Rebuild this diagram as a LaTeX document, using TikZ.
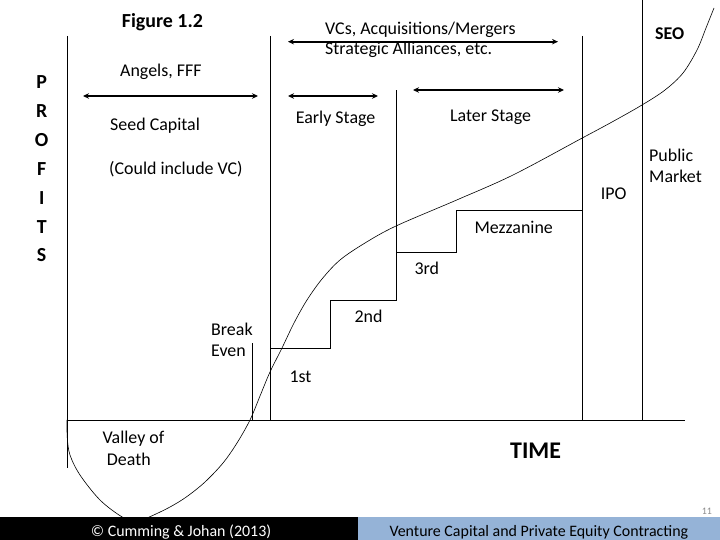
\documentclass[tikz,border=0pt]{standalone}
\usepackage{fontspec}
\setmainfont{Carlito}
\usetikzlibrary{arrows.meta}
\definecolor{footblue}{RGB}{149,179,215}
\definecolor{numgray}{RGB}{140,140,140}
\begin{document}
\begin{tikzpicture}[x=1bp,y=-1bp,
  ax/.style={line width=0.9bp,black},
  arr/.style={line width=1.8bp,{Stealth[length=6bp,width=5.5bp]}-{Stealth[length=6bp,width=5.5bp]}},
  lbl/.style={inner sep=0pt,anchor=base west,font=\fontsize{18}{20}\selectfont},
  blbl/.style={inner sep=0pt,anchor=base west,font=\fontsize{18}{20}\selectfont\bfseries},
  plet/.style={inner sep=0pt,anchor=base,font=\fontsize{20}{22}\selectfont\bfseries}]
\useasboundingbox (0,0) rectangle (720,540);
% axes and stage lines
\coordinate (yTop) at (67,36);
\coordinate (yBot) at (67,468);
\coordinate (xL) at (67,420);
\coordinate (xR) at (685,420);
\draw[ax] (yTop) -- (yBot);
\draw[ax] (xL) -- (xR);
\coordinate (v2t) at (270,36); \coordinate (v2b) at (270,420);
\draw[ax] (v2t) -- (v2b);
\coordinate (v5t) at (582.7,36); \coordinate (v5b) at (582.7,420);
\draw[ax] (v5t) -- (v5b);
\coordinate (v6t) at (642.7,0); \coordinate (v6b) at (642.7,420);
\draw[ax] (v6t) -- (v6b);
\coordinate (beT) at (252.3,343); \coordinate (beB) at (252.3,420);
\draw[ax] (beT) -- (beB);
% staircase
\coordinate (s0) at (270,348);
\coordinate (s1) at (330,348);
\coordinate (s2) at (330,300);
\coordinate (s3) at (396,300);
\coordinate (s4) at (396,90);
\coordinate (m0) at (396,252);
\coordinate (m1) at (456.7,252);
\coordinate (m2) at (456.7,210);
\coordinate (m3) at (582.7,210);
\draw[ax] (s0) -- (s1) -- (s2) -- (s3) -- (s4);
\draw[ax] (m0) -- (m1) -- (m2) -- (m3);
% arrows
\coordinate (a1) at (83,96); \coordinate (a2) at (258,96);
\coordinate (b1) at (288,96); \coordinate (b2) at (378,96);
\coordinate (c1) at (288,41.7); \coordinate (c2) at (558,41.7);
\coordinate (d1) at (413,90); \coordinate (d2) at (564,90);
\draw[arr] (a1) -- (a2);
\draw[arr] (b1) -- (b2);
\draw[arr] (c1) -- (c2);
\draw[arr] (d1) -- (d2);
% curve
\draw[line width=0.6bp] plot[smooth,tension=0.55] coordinates {
(67,420) (67.3,438) (70,455) (80,475) (100,500) (121.7,516.7) (136,522) (150,516.7)
(170,507) (186.7,496.7) (205,482) (223,463) (237,443) (250,420) (260,396) (270,372)
(282,348) (294,323) (307,300) (322,279) (340,260) (365,243) (396,226) (456.7,200)
(513,175) (581.7,138.3) (612,122) (642,105) (665,90) (683,73) (697,50) (706,28) (714,8)};
% texts
\node[blbl,font=\fontsize{20}{22}\selectfont\bfseries] (fig) at (121.7,27.3) {Figure 1.2};
\node[plet] (pP) at (41.7,88.3) {P};
\node[plet] (pR) at (41.7,117.5) {R};
\node[plet] (pO) at (41.7,146.5) {O};
\node[plet] (pF) at (41.7,175.5) {F};
\node[plet] (pI) at (41.7,204.5) {I};
\node[plet] (pT) at (41.7,233.3) {T};
\node[plet] (pS) at (41.7,262) {S};
\node[lbl] (ang) at (120,76.7) {Angels, FFF};
\node[lbl] (seed) at (110,131) {Seed Capital};
\node[lbl] (could) at (109,174.5) {(Could include VC)};
\node[lbl] (vcs) at (325,35) {VCs, Acquisitions/Mergers};
\node[lbl] (strat) at (325,55) {Strategic Alliances, etc.};
\node[blbl] (seo) at (655,40) {SEO};
\node[lbl] (early) at (295.7,123.3) {Early Stage};
\node[lbl] (later) at (450,121.7) {Later Stage};
\node[lbl] (pub) at (649,161.7) {Public};
\node[lbl] (mkt) at (649,182.3) {Market};
\node[lbl] (ipo) at (600.7,200) {IPO};
\node[lbl] (mez) at (474.3,233.3) {Mezzanine};
\node[lbl] (third) at (414.3,274.3) {3rd};
\node[lbl] (second) at (354.3,322.7) {2nd};
\node[lbl] (first) at (289.3,382.7) {1st};
\node[lbl] (brk) at (211,335) {Break};
\node[lbl] (even) at (211,356.7) {Even};
\node[lbl] (val) at (102.3,443.3) {Valley of};
\node[lbl] (death) at (106.7,465) {Death};
\node[blbl,font=\fontsize{24}{26}\selectfont\bfseries] (time) at (510,458.3) {TIME};
% footer
\fill[black] (0,517) rectangle (358,540);
\fill[footblue] (358,517) rectangle (720,540);
\node[lbl,font=\fontsize{10}{12}\selectfont,text=numgray] (pg) at (701.7,514) {11};
\node[lbl,font=\fontsize{16}{18}\selectfont,text=white] (cr) at (90.7,536) {© Cumming \& Johan (2013)};
\node[lbl,font=\fontsize{16}{18}\selectfont] (vt) at (389.3,536) {Venture Capital and Private Equity Contracting};
\end{tikzpicture}
\end{document}
